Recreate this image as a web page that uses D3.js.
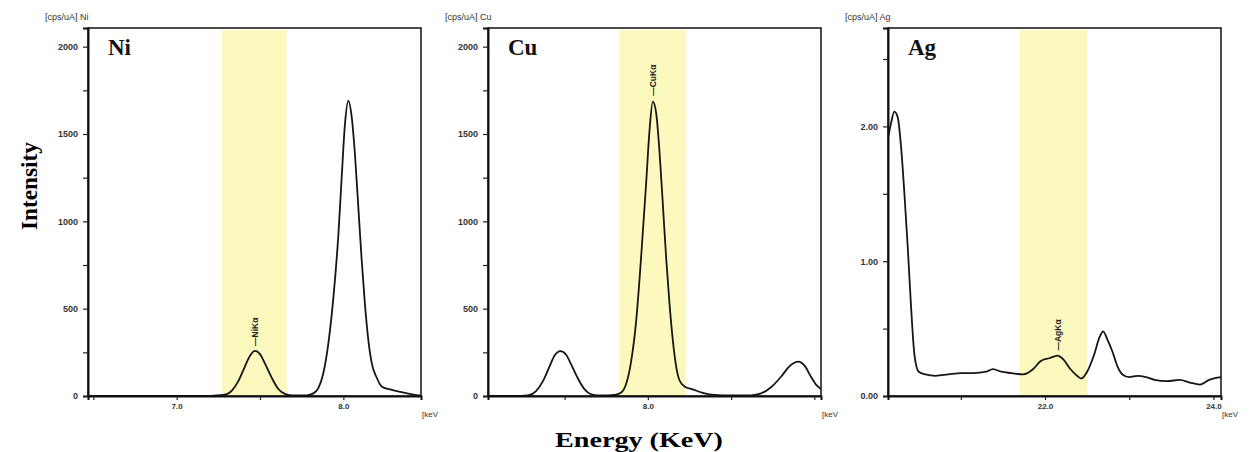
<!DOCTYPE html>
<html>
<head>
<meta charset="utf-8">
<script src="https://cdn.jsdelivr.net/npm/d3@7"></script>
<style>
body { margin: 0; background: #fff; }
svg text { font-family: "Liberation Sans", Arial, sans-serif; }
</style>
</head>
<body>
<svg id="drawing_region"></svg>
<script>
// spectra: [energy keV, intensity cps/uA]
const niSpectrum = [
    [6.47, 0], [7.00, 0], [7.20, 1], [7.28, 6], [7.33, 30], [7.37, 85], [7.41, 170], [7.44, 230],
    [7.47, 258], [7.50, 240], [7.53, 185], [7.57, 105], [7.61, 40], [7.65, 12], [7.70, 3], [7.78, 4],
    [7.82, 15], [7.85, 45], [7.88, 130], [7.91, 300], [7.94, 560], [7.97, 920], [7.99, 1250],
    [8.01, 1560], [8.03, 1690], [8.05, 1600], [8.07, 1380], [8.09, 1080], [8.11, 780], [8.13, 520],
    [8.15, 320], [8.17, 190], [8.20, 106], [8.23, 55], [8.28, 38], [8.35, 22], [8.42, 8], [8.47, 2]
];
const cuSpectrum = [
    [7.04, 0], [7.20, 0], [7.28, 4], [7.33, 30], [7.37, 85], [7.41, 170], [7.44, 232], [7.475, 257],
    [7.51, 235], [7.54, 180], [7.58, 100], [7.62, 38], [7.66, 10], [7.72, 3], [7.80, 6], [7.84, 20],
    [7.87, 70], [7.90, 200], [7.93, 430], [7.96, 800], [7.99, 1220], [8.01, 1520], [8.03, 1685],
    [8.05, 1620], [8.07, 1400], [8.09, 1100], [8.11, 790], [8.13, 530], [8.15, 320], [8.17, 170],
    [8.19, 90], [8.22, 55], [8.27, 38], [8.33, 18], [8.40, 6], [8.50, 3], [8.62, 4], [8.68, 15],
    [8.74, 50], [8.80, 110], [8.85, 170], [8.905, 197], [8.94, 175], [8.98, 110], [9.01, 65], [9.04, 40]
];
const agSpectrum = [
    [20.13, 1.90], [20.17, 2.02], [20.21, 2.11], [20.25, 2.07], [20.29, 1.85], [20.33, 1.50],
    [20.37, 1.10], [20.41, 0.65], [20.45, 0.30], [20.50, 0.18], [20.58, 0.16], [20.70, 0.15],
    [20.85, 0.16], [21.00, 0.17], [21.15, 0.17], [21.30, 0.18], [21.38, 0.20], [21.48, 0.18],
    [21.60, 0.17], [21.74, 0.16], [21.86, 0.20], [21.95, 0.26], [22.05, 0.28], [22.15, 0.30],
    [22.22, 0.27], [22.30, 0.20], [22.38, 0.15], [22.43, 0.13], [22.50, 0.18], [22.58, 0.30],
    [22.65, 0.44], [22.69, 0.48], [22.74, 0.42], [22.80, 0.33], [22.86, 0.22], [22.92, 0.16],
    [23.00, 0.14], [23.10, 0.15], [23.20, 0.14], [23.30, 0.12], [23.45, 0.11], [23.60, 0.12],
    [23.72, 0.10], [23.84, 0.085], [23.95, 0.12], [24.09, 0.14]
];

const elements = ['Ni', 'Cu', 'Ag'];
const unitLabels = ['[cps/uA] Ni', '[cps/uA] Cu', '[cps/uA] Ag'];
const peakLabels = ['\u2014NiK\u03b1', '\u2014CuK\u03b1', '\u2014AgK\u03b1'];
const peakAt = [[7.47, 258], [8.03, 1690], [22.15, 0.30]];
const bands = [[7.27, 7.66], [7.83, 8.23], [21.70, 22.50]];
const xDomains = [[6.468, 8.466], [7.04, 9.04], [20.135, 24.09]];
const yDomains = [[0, 2107], [0, 2107], [0, 2.73]];
const xTicks = [[6.5, 7.0, 7.5, 8.0], [7.5, 8.0, 8.5, 9.0], [21, 22, 23, 24]];
const xTickLabels = [['', '7.0', '', '8.0'], ['', '8.0', '', ''], ['', '22.0', '', '24.0']];
const yTicks = [
    [0, 250, 500, 750, 1000, 1250, 1500, 1750, 2000],
    [0, 250, 500, 750, 1000, 1250, 1500, 1750, 2000],
    [0, 0.5, 1, 1.5, 2, 2.5]
];
const yTickLabels = [
    ['0', '', '500', '', '1000', '', '1500', '', '2000'],
    ['0', '', '500', '', '1000', '', '1500', '', '2000'],
    ['0.00', '', '1.00', '', '2.00', '']
];
const spectra = [niSpectrum, cuSpectrum, agSpectrum];

const svg = d3.select('#drawing_region')
    .attr('width', 1250)
    .attr('height', 452);

class SpectrumPanel {
    constructor(config, data) {
        this.config = {
            parent: config.parent,
            index: config.index,
            left: config.left,
            top: config.top || 28,
            width: config.width || 333,
            height: config.height || 368
        };
        this.data = data;
        this.init();
    }

    init() {
        let self = this;
        let i = self.config.index;

        self.chart = self.config.parent.append('g')
            .attr('transform', `translate(${self.config.left},${self.config.top})`);

        self.xscale = d3.scaleLinear()
            .domain(xDomains[i])
            .range([0, self.config.width]);

        self.yscale = d3.scaleLinear()
            .domain(yDomains[i])
            .range([self.config.height, 0]);

        self.xaxis = d3.axisBottom(self.xscale)
            .tickValues(xTicks[i])
            .tickSize(4)
            .tickPadding(3)
            .tickFormat((d, k) => xTickLabels[i][k]);

        self.yaxis = d3.axisLeft(self.yscale)
            .tickValues(yTicks[i])
            .tickSize(5)
            .tickPadding(5)
            .tickFormat((d, k) => yTickLabels[i][k]);
    }

    render() {
        let self = this;
        let i = self.config.index;
        let w = self.config.width, h = self.config.height;

        self.chart.append('clipPath')
            .attr('id', 'clip' + i)
            .append('rect')
            .attr('width', w)
            .attr('height', h);

        self.chart.append('rect')
            .attr('x', self.xscale(bands[i][0]))
            .attr('y', 2)
            .attr('width', self.xscale(bands[i][1]) - self.xscale(bands[i][0]))
            .attr('height', h - 2)
            .attr('fill', '#fcf9bf');

        const line = d3.line()
            .x(d => self.xscale(d[0]))
            .y(d => self.yscale(d[1]))
            .curve(d3.curveMonotoneX);

        self.chart.append('path')
            .datum(self.data)
            .attr('d', line)
            .attr('clip-path', `url(#clip${i})`)
            .attr('fill', 'none')
            .attr('stroke', '#161616')
            .attr('stroke-width', 1.8);

        self.chart.append('rect')
            .attr('width', w)
            .attr('height', h)
            .attr('fill', 'none')
            .attr('stroke', '#111')
            .attr('stroke-width', 1.5);

        const xg = self.chart.append('g')
            .attr('transform', `translate(0,${h})`)
            .call(self.xaxis);
        const yg = self.chart.append('g')
            .call(self.yaxis);
        [xg, yg].forEach(g => {
            g.select('.domain').attr('stroke', '#111').attr('stroke-width', 2);
            g.selectAll('.tick line').attr('stroke', '#222').attr('stroke-width', 1.2);
            g.selectAll('.tick text')
                .attr('fill', '#333')
                .style('font-weight', 'bold');
        });
        xg.selectAll('.tick text').style('font-size', '8px');
        yg.selectAll('.tick text').style('font-size', '9px');

        self.chart.append('text')
            .attr('x', w + 1)
            .attr('y', h + 21)
            .attr('fill', '#333')
            .style('font-size', '8px')
            .text('[keV');

        self.chart.append('text')
            .attr('x', -43)
            .attr('y', -8)
            .attr('fill', '#333')
            .style('font-size', '9px')
            .text(unitLabels[i]);

        self.chart.append('text')
            .attr('x', 20)
            .attr('y', 27)
            .style('font-family', '"Liberation Serif", "Times New Roman", serif')
            .style('font-size', '23px')
            .style('font-weight', 'bold')
            .attr('fill', '#111')
            .text(elements[i]);

        let px = self.xscale(peakAt[i][0]), py = self.yscale(peakAt[i][1]) - 5;
        self.chart.append('text')
            .attr('transform', `translate(${px + 3},${py}) rotate(-90)`)
            .attr('fill', '#222')
            .style('font-size', '8.5px')
            .style('font-weight', 'bold')
            .text(peakLabels[i]);
    }
}

for (let i = 0; i < 3; i++) {
    const panel = new SpectrumPanel({ parent: svg, index: i, left: 88 + i * 400 }, spectra[i]);
    panel.render();
}

svg.append('text')
    .attr('transform', 'translate(37,186) rotate(-90)')
    .attr('text-anchor', 'middle')
    .attr('textLength', 88)
    .attr('lengthAdjust', 'spacingAndGlyphs')
    .style('font-family', '"Liberation Serif", "Times New Roman", serif')
    .style('font-size', '24px')
    .style('font-weight', 'bold')
    .text('Intensity');

svg.append('text')
    .attr('x', 555)
    .attr('y', 447)
    .attr('textLength', 168)
    .attr('lengthAdjust', 'spacingAndGlyphs')
    .style('font-family', '"Liberation Serif", "Times New Roman", serif')
    .style('font-size', '20px')
    .style('font-weight', 'bold')
    .text('Energy (KeV)');
</script>
</body>
</html>
